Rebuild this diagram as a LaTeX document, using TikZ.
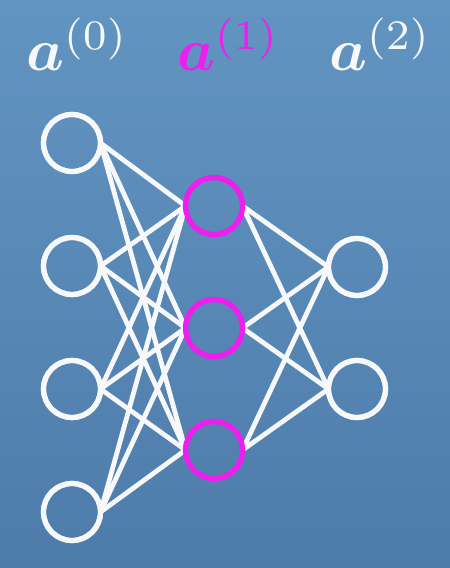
\documentclass[tikz,border=0pt]{standalone}
\usepackage{amsmath,bm}
\definecolor{bgtop}{RGB}{98,148,194}
\definecolor{bgbot}{RGB}{78,124,170}
\definecolor{mag}{RGB}{238,30,238}
\definecolor{wline}{RGB}{246,248,250}
\begin{document}
\begin{tikzpicture}[x=1pt,y=1pt,
  neuron/.style={circle,draw=wline,line width=5.2pt,minimum size=57pt,inner sep=0pt,outer sep=0pt},
  hidden/.style={neuron,draw=mag},
  conn/.style={draw=wline,line width=4.8pt},
  lab/.style={text=wline,anchor=base west,inner sep=0pt,font=\normalsize,scale=6,transform shape}]
\shade[top color=bgtop,bottom color=bgbot] (0,0) rectangle (450,568);
\useasboundingbox (0,0) rectangle (450,568);
% layer 0
\node[neuron] (i1) at (72,425) {};
\node[neuron] (i2) at (72,302) {};
\node[neuron] (i3) at (72,179) {};
\node[neuron] (i4) at (72,56) {};
% layer 1
\node[hidden] (h1) at (214,362) {};
\node[hidden] (h2) at (214,240) {};
\node[hidden] (h3) at (214,118) {};
% layer 2
\node[neuron] (o1) at (357,301) {};
\node[neuron] (o2) at (357,179) {};
% connectors
\foreach \a in {i1,i2,i3,i4}{
  \foreach \b in {h1,h2,h3}{
    \draw[conn] (\a.east) -- (\b.west);
  }
}
\foreach \a in {h1,h2,h3}{
  \foreach \b in {o1,o2}{
    \draw[conn] (\a.east) -- (\b.west);
  }
}
% redraw circles on top
\node[neuron] at (i1) {};
\node[neuron] at (i2) {};
\node[neuron] at (i3) {};
\node[neuron] at (i4) {};
\node[hidden] at (h1) {};
\node[hidden] at (h2) {};
\node[hidden] at (h3) {};
\node[neuron] at (o1) {};
\node[neuron] at (o2) {};
% labels
\node[lab] (l0) at (25,497) {$\bm{a}^{(0)}$};
\node[lab,text=mag] (l1) at (176,497) {$\bm{a}^{(1)}$};
\node[lab] (l2) at (328,497) {$\bm{a}^{(2)}$};
\end{tikzpicture}
\end{document}
